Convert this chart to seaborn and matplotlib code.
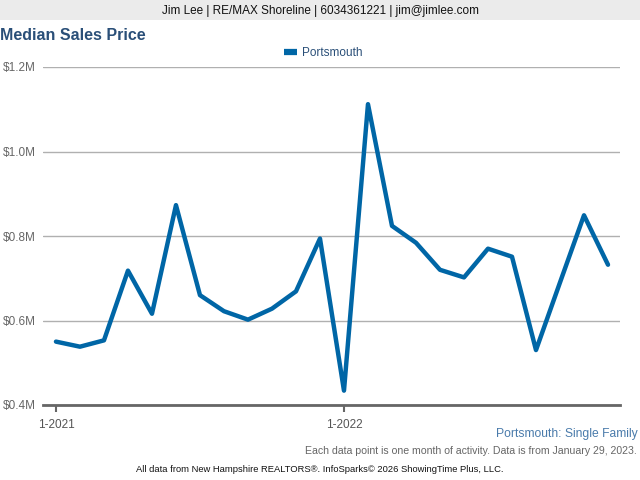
import matplotlib
matplotlib.use("Agg")
import matplotlib.pyplot as plt
import seaborn as sns
import pandas as pd
import numpy as np

months = ["1-2021", "2-2021", "3-2021", "4-2021", "5-2021", "6-2021", "7-2021", "8-2021",
          "9-2021", "10-2021", "11-2021", "12-2021", "1-2022", "2-2022", "3-2022", "4-2022",
          "5-2022", "6-2022", "7-2022", "8-2022", "9-2022", "10-2022", "11-2022", "12-2022"]
portsmouth = [0.550, 0.538, 0.553, 0.718, 0.616, 0.873, 0.660, 0.622, 0.602, 0.628, 0.669, 0.794,
              0.434, 1.112, 0.824, 0.784, 0.720, 0.702, 0.770, 0.751, 0.530, 0.690, 0.849, 0.732]
tick_labels = ["1-2021", "1-2022"]
y_ticks = [0.4, 0.6, 0.8, 1.0, 1.2]
y_tick_labels = ["$0.4M", "$0.6M", "$0.8M", "$1.0M", "$1.2M"]

df = pd.DataFrame({"idx": np.arange(len(months)), "month": months, "Portsmouth": portsmouth})

sns.set_theme(style="white")
plt.rcParams['font.family'] = ['Liberation Sans', 'DejaVu Sans']

fig = plt.figure(figsize=(6.4, 4.8), dpi=100)
fig.patch.set_facecolor("white")

# header band
fig.patches.append(matplotlib.patches.Rectangle((0, 1 - 20/480), 1, 20/480, transform=fig.transFigure,
                                                facecolor="#ebebeb", edgecolor="none", zorder=0))
fig.text(0.5, 1 - 11/480, "Jim Lee | RE/MAX Shoreline | 6034361221 | jim@jimlee.com",
         ha="center", va="center", fontsize=8.5, color="#111111")
fig.text(0.0, 1 - 35/480, "Median Sales Price", ha="left", va="center", fontsize=11.5,
         fontweight="bold", color="#2a4f78")

ax = fig.add_axes([43/640, 1 - 405/480, (620 - 43)/640, (405 - 67)/480])
line_color = "#0066a6"
sns.lineplot(data=df, x="idx", y="Portsmouth", ax=ax, color=line_color, linewidth=3.2,
             label="Portsmouth", legend=False)
ax.lines[0].set_solid_joinstyle("round")
ax.lines[0].set_solid_capstyle("round")

ax.set_xlim(-0.54, 23.5)
ax.set_ylim(0.4, 1.2)
ax.set_yticks(y_ticks)
ax.set_yticklabels(y_tick_labels)
tick_pos = [months.index(t) for t in tick_labels]
ax.set_xticks(tick_pos)
ax.set_xticklabels(tick_labels)
ax.set_xlabel("")
ax.set_ylabel("")
ax.grid(axis="y", color="#b0b0b0", linewidth=1.0)
ax.grid(axis="x", visible=False)
for s in ["top", "right", "left"]:
    ax.spines[s].set_visible(False)
ax.spines["bottom"].set_color("#666666")
ax.spines["bottom"].set_linewidth(2)
ax.tick_params(axis="y", length=0, labelsize=8.5, labelcolor="#666666", pad=5.5)
ax.tick_params(axis="x", length=5, width=1.5, color="#666666", labelsize=8.5,
               labelcolor="#555555", pad=5, direction="out", bottom=True)
ax.set_axisbelow(True)

from matplotlib.lines import Line2D
handle = Line2D([0], [0], color=line_color, linewidth=4.5, solid_capstyle="butt")
fig.legend([handle], ["Portsmouth"], loc="center", bbox_to_anchor=(0.505, 1 - 53/480),
           frameon=False, fontsize=8.5, handlelength=1.1, handletextpad=0.45,
           labelcolor="#2a4f78")

fig.text(638/640, 1 - 434/480, "Portsmouth: Single Family", ha="right", va="center",
         fontsize=8.7, color="#4a7bab")
fig.text(637/640, 1 - 451/480, "Each data point is one month of activity. Data is from January 29, 2023.",
         ha="right", va="center", fontsize=7.6, color="#666666")
fig.text(0.5, 1 - 469/480, "All data from New Hampshire REALTORS®. InfoSparks© 2026 ShowingTime Plus, LLC.",
         ha="center", va="center", fontsize=6.75, color="#111111")

fig.savefig("out.png", dpi=100, facecolor="white")
